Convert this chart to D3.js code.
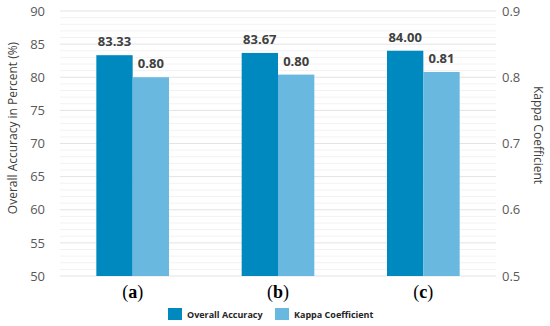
<!DOCTYPE html>
<html>
<head>
<meta charset="utf-8">
<script src="https://cdn.jsdelivr.net/npm/d3@7"></script>
<style>
  body { margin: 0; background: #fff; }
  svg { display: block; font-family: "Open Sans", "Noto Sans", sans-serif; }
</style>
</head>
<body>
<svg id="chart" width="550" height="326"></svg>
<script>
const categories = ["a", "b", "c"];
const accuracy = [83.33, 83.67, 84.00];
const kappa = [0.800, 0.804, 0.808];
const seriesNames = ["Overall Accuracy", "Kappa Coefficient"];
const leftTicks = [50, 55, 60, 65, 70, 75, 80, 85, 90];
const rightTicks = [0.5, 0.6, 0.7, 0.8, 0.9];

const colors = ["#0089bf", "#69b8e0"];
const margin = { left: 60, right: 54, top: 11, bottom: 50 };
const width = 550, height = 326;

const svg = d3.select("#chart");

const x = d3.scaleBand()
   .domain(categories)
   .range([margin.left, width - margin.right])
   .paddingInner(0.5)
   .paddingOuter(0.25);
const xSub = d3.scaleBand().domain([0, 1]).range([0, x.bandwidth()]);

const yLeft = d3.scaleLinear().domain([50, 90]).range([height - margin.bottom, margin.top]);
const yRight = d3.scaleLinear().domain([0.5, 0.9]).range([height - margin.bottom, margin.top]);

// minor gridlines every 1 unit
svg.append("g")
   .selectAll("line")
   .data(d3.range(50, 91, 1).filter(v => v % 5 !== 0))
   .join("line")
   .attr("x1", margin.left).attr("x2", width - margin.right)
   .attr("y1", d => yLeft(d)).attr("y2", d => yLeft(d))
   .attr("stroke", "#f2f2f2").attr("stroke-width", 1);

// major gridlines
svg.append("g")
   .selectAll("line")
   .data(leftTicks)
   .join("line")
   .attr("x1", margin.left).attr("x2", width - margin.right)
   .attr("y1", d => yLeft(d)).attr("y2", d => yLeft(d))
   .attr("stroke", "#e3e3e3").attr("stroke-width", 1);

// left axis
const leftAxis = svg.append("g")
   .attr("transform", `translate(${margin.left},0)`)
   .call(d3.axisLeft(yLeft).tickValues(leftTicks).tickSize(0).tickPadding(15));
leftAxis.select(".domain").remove();
leftAxis.selectAll("text").attr("font-size", 13).attr("fill", "#595959")
   .attr("font-family", "'Open Sans', sans-serif");

// right axis
const rightAxis = svg.append("g")
   .attr("transform", `translate(${width - margin.right},0)`)
   .call(d3.axisRight(yRight).tickValues(rightTicks).tickFormat(d3.format(".1f")).tickSize(0).tickPadding(6));
rightAxis.select(".domain").remove();
rightAxis.selectAll("text").attr("font-size", 13).attr("fill", "#595959")
   .attr("font-family", "'Open Sans', sans-serif");

// bars
const groups = svg.append("g")
   .selectAll("g")
   .data(categories)
   .join("g")
   .attr("transform", d => `translate(${x(d)},0)`);

groups.append("rect")
   .attr("x", xSub(0)).attr("width", xSub.bandwidth())
   .attr("y", (d, i) => yLeft(accuracy[i]))
   .attr("height", (d, i) => yLeft(50) - yLeft(accuracy[i]))
   .attr("fill", colors[0]);

groups.append("rect")
   .attr("x", xSub(1)).attr("width", xSub.bandwidth())
   .attr("y", (d, i) => yRight(kappa[i]))
   .attr("height", (d, i) => yRight(0.5) - yRight(kappa[i]))
   .attr("fill", colors[1]);

// value labels
groups.append("text")
   .attr("x", xSub(0) + xSub.bandwidth() / 2)
   .attr("y", (d, i) => yLeft(accuracy[i]) - 9)
   .attr("text-anchor", "middle")
   .attr("font-size", 13).attr("font-weight", "bold").attr("fill", "#404040")
   .text((d, i) => accuracy[i].toFixed(2));

groups.append("text")
   .attr("x", xSub(1) + xSub.bandwidth() / 2)
   .attr("y", (d, i) => yRight(kappa[i]) - 9)
   .attr("text-anchor", "middle")
   .attr("font-size", 13).attr("font-weight", "bold").attr("fill", "#404040")
   .text((d, i) => kappa[i].toFixed(2));

// category labels "(a)" etc
const catText = groups.append("text")
   .attr("x", x.bandwidth() / 2)
   .attr("y", 298)
   .attr("text-anchor", "middle")
   .attr("font-family", "'Liberation Serif', 'DejaVu Serif', serif")
   .attr("font-size", 18).attr("fill", "#000");
catText.append("tspan").text("(");
catText.append("tspan").attr("font-weight", "bold").text(d => d);
catText.append("tspan").text(")");

// axis titles
svg.append("text")
   .attr("transform", "translate(17,128) rotate(-90)")
   .attr("text-anchor", "middle")
   .attr("font-size", 12).attr("fill", "#404040")
   .text("Overall Accuracy in Percent (%)");

svg.append("text")
   .attr("transform", "translate(534,135) rotate(90)")
   .attr("text-anchor", "middle")
   .attr("font-size", 12).attr("fill", "#404040")
   .text("Kappa Coefficient");

// legend
const legendX = [168, 275];
const legend = svg.append("g")
   .selectAll("g")
   .data(seriesNames)
   .join("g")
   .attr("transform", (d, i) => `translate(${legendX[i]},308)`);
legend.append("rect").attr("width", 14).attr("height", 12).attr("fill", (d, i) => colors[i]);
legend.append("text")
   .attr("x", 19).attr("y", 10)
   .attr("font-size", 9).attr("font-weight", "bold").attr("fill", "#262626")
   .text(d => d);
</script>
</body>
</html>
